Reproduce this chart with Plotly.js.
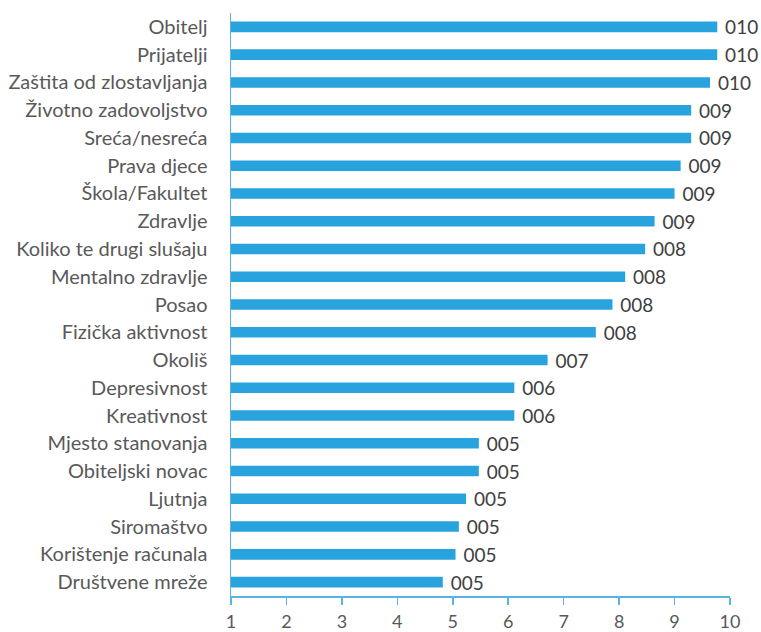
<!DOCTYPE html>
<html>
<head>
<meta charset="utf-8">
<script src="https://cdn.plot.ly/plotly-3.0.1.min.js"></script>
<style>html,body{margin:0;padding:0;background:#fff;}#chart{width:761px;height:632px;}</style>
</head>
<body>
<div id="chart"></div>
<script>
const categories = [
  "Obitelj", "Prijatelji", "Zaštita od zlostavljanja", "Životno zadovoljstvo",
  "Sreća/nesreća", "Prava djece", "Škola/Fakultet", "Zdravlje",
  "Koliko te drugi slušaju", "Mentalno zdravlje", "Posao", "Fizička aktivnost",
  "Okoliš", "Depresivnost", "Kreativnost", "Mjesto stanovanja",
  "Obiteljski novac", "Ljutnja", "Siromaštvo", "Korištenje računala", "Društvene mreže"
];
const values = [
  9.77, 9.77, 9.64, 9.30,
  9.30, 9.11, 9.00, 8.64,
  8.47, 8.11, 7.88, 7.58,
  6.71, 6.11, 6.11, 5.47,
  5.47, 5.24, 5.11, 5.05, 4.82
];
const xTicks = [1, 2, 3, 4, 5, 6, 7, 8, 9, 10];

const FONT = 'Lato, sans-serif';

const trace = {
  type: 'bar',
  orientation: 'h',
  y: categories,
  x: values,
  marker: {color: '#29A3DD'},
  texttemplate: '\u00a0%{x:03.0f}',
  textposition: 'outside',
  constraintext: 'none',
  cliponaxis: false,
  textfont: {family: FONT, size: 19, color: '#404040'},
  hoverinfo: 'none'
};

const layout = {
  width: 761, height: 632,
  margin: {l: 231, r: 31, t: 13, b: 36},
  paper_bgcolor: '#fff', plot_bgcolor: '#fff',
  showlegend: false,
  bargap: 0.62,
  font: {family: FONT, color: '#595959', size: 19},
  xaxis: {
    range: [1, 10],
    tickvals: xTicks,
    ticktext: xTicks.map(String),
    showgrid: false, zeroline: false,
    showline: true, linecolor: '#5AB4E3', linewidth: 1.5,
    ticks: 'outside', ticklen: 7, tickcolor: '#5AB4E3', tickwidth: 1.5,
    ticklabelstandoff: 2,
    tickfont: {family: FONT, size: 18, color: '#595959'},
    fixedrange: true
  },
  yaxis: {
    type: 'category',
    autorange: 'reversed',
    range: [20.5, -0.5],
    showgrid: false, zeroline: false,
    showline: true, linecolor: '#5AB4E3', linewidth: 1.5,
    ticks: '', ticklabelstandoff: 18,
    tickfont: {family: FONT, size: 20, color: '#595959'},
    fixedrange: true
  }
};

Plotly.newPlot('chart', [trace], layout, {displayModeBar: false, staticPlot: true});
</script>
</body>
</html>
